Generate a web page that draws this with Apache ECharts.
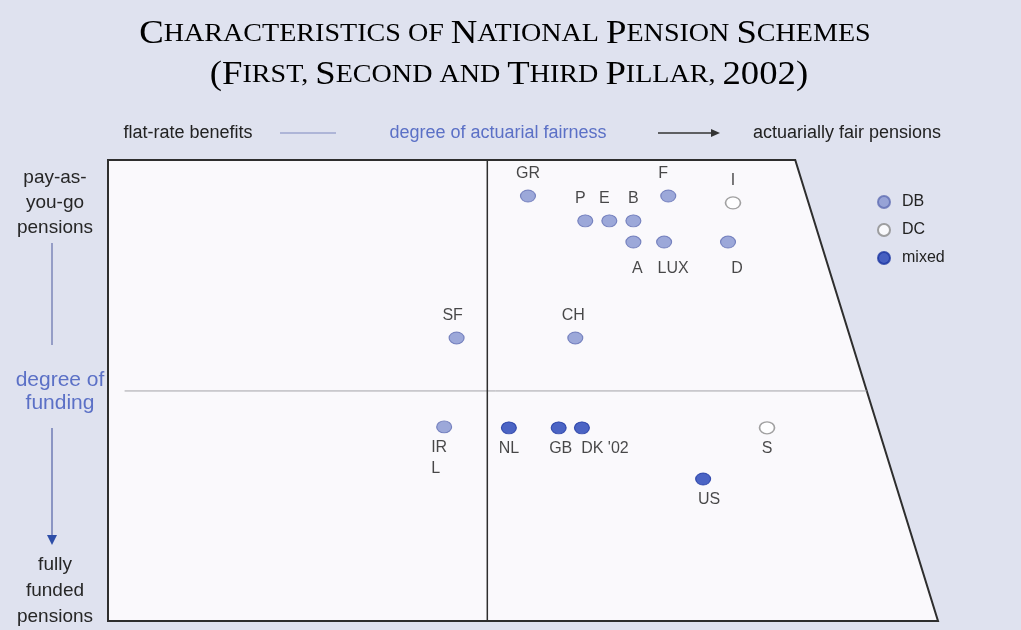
<!DOCTYPE html>
<html>
<head>
<meta charset="utf-8">
<title>Characteristics of National Pension Schemes</title>
<script src="https://cdn.jsdelivr.net/npm/echarts@6/dist/echarts.min.js"></script>
<style>
  html, body { margin: 0; padding: 0; background: #dfe2ef; }
  #chart { width: 1021px; height: 630px; }
</style>
</head>
<body>
<div id="chart"></div>
<script>
// countries and where they sit on the two axes
const countries = ['GR', 'F', 'I', 'P', 'E', 'B', 'A', 'LUX', 'D', 'SF', 'CH', 'IRL', 'NL', 'GB', "DK '02", 'S', 'US'];
// degree of actuarial fairness (0 = flat-rate benefits, 100 = actuarially fair)
const fairness = [50.6, 67.5, 75.3, 57.5, 60.4, 63.3, 63.3, 67.0, 74.7, 42.0, 56.3, 40.5, 48.3, 54.3, 57.1, 79.4, 71.7];
// degree of funding (0 = pay-as-you-go, 100 = fully funded)
const funding = [7.8, 7.8, 9.3, 13.2, 13.2, 13.2, 17.8, 17.8, 17.8, 38.6, 38.6, 57.9, 58.1, 58.1, 58.1, 58.1, 69.2];
const schemes = ['DB', 'DB', 'DC', 'DB', 'DB', 'DB', 'DB', 'DB', 'DB', 'DB', 'DB', 'DB', 'mixed', 'mixed', 'mixed', 'DC', 'mixed'];
const schemeTypes = ['DB', 'DC', 'mixed'];

// frame of the diagram, in axis units
const frameTopRight = 82.8;
const fairnessSplit = 45.7;
const fundingSplit = 50.1;
const splitLineStart = 2.0;

// label placement
const labelBelow = ['A', 'LUX', 'D', 'IRL', 'NL', 'GB', "DK '02", 'S', 'US'];
const labelShift = {
  F: [-5, 0], P: [-5, 0], E: [-5, 0], SF: [-4, 0], CH: [-2, 0],
  A: [4, 6], LUX: [9, 6], D: [9, 6], US: [6, 0], GB: [2, 0], "DK '02": [23, 0], IRL: [-13, 0]
};

const sans = '"Liberation Sans", Arial, sans-serif';
const serif = '"Liberation Serif", "Times New Roman", serif';

const schemeStyle = {
  DB: { color: '#8593d0', borderColor: '#5f6db3', borderWidth: 1 },
  DC: { color: '#ffffff', borderColor: '#8a8a8a', borderWidth: 1.5 },
  mixed: { color: '#1f3fb5', borderColor: '#1a34a0', borderWidth: 1 }
};

// turn "Pension Schemes" into small caps rich text
function smallCaps(str) {
  let out = '';
  let cur = null, buf = '';
  for (const ch of str) {
    const cls = /[a-z ,]/.test(ch) ? 's' : 'b';
    if (cls !== cur && buf) { out += '{' + cur + '|' + buf + '}'; buf = ''; }
    cur = cls;
    buf += ch.toUpperCase();
  }
  if (buf) out += '{' + cur + '|' + buf + '}';
  return out;
}

const titleRich = {
  b: { fontFamily: serif, fontSize: 34, color: '#1e1e1e' },
  s: { fontFamily: serif, fontSize: 26, color: '#1e1e1e' }
};

const chart = echarts.init(document.getElementById('chart'));

const pointSeries = schemeTypes.map(type => ({
  name: type,
  type: 'scatter',
  z: 3,
  symbol: 'circle',
  symbolSize: [15, 12],
  itemStyle: schemeStyle[type],
  label: {
    show: true,
    fontFamily: sans,
    fontSize: 16,
    color: '#1a1a1a',
    lineHeight: 21,
    formatter: p => (p.name === 'IRL' ? 'IR\nL' : p.name)
  },
  data: countries
    .map((c, i) => {
      const below = labelBelow.includes(c);
      return {
        name: c,
        scheme: schemes[i],
        value: [fairness[i], funding[i]],
        label: {
          position: below ? 'bottom' : 'top',
          distance: below ? 4 : 5,
          offset: labelShift[c] || [0, 0],
          align: c === 'IRL' ? 'left' : 'center'
        }
      };
    })
    .filter(d => d.scheme === type)
}));

const option = {
  backgroundColor: '#dfe2ef',
  animation: false,
  grid: { left: 108, top: 160, right: 83, bottom: 9 },
  xAxis: { type: 'value', min: 0, max: 100, show: false },
  yAxis: { type: 'value', min: 0, max: 100, inverse: true, show: false },
  legend: {
    orient: 'vertical',
    left: 872,
    top: 189,
    icon: 'circle',
    itemWidth: 14,
    itemHeight: 12,
    itemGap: 12,
    textStyle: { fontFamily: sans, fontSize: 16, color: '#222', padding: [0, 0, 0, 6] },
    data: schemeTypes
  },
  graphic: [
    {
      type: 'text', x: 505, y: 34, scaleX: 1.08,
      style: { text: smallCaps('Characteristics of National Pension Schemes'), rich: titleRich, align: 'center', verticalAlign: 'middle' }
    },
    {
      type: 'text', x: 509, y: 75, scaleX: 1.08,
      style: { text: smallCaps('(First, Second and Third Pillar, 2002)'), rich: titleRich, align: 'center', verticalAlign: 'middle' }
    },
    // top axis caption
    {
      type: 'text', x: 188, y: 133,
      style: { text: 'flat-rate benefits', font: '18px ' + sans, fill: '#222', align: 'center', verticalAlign: 'middle' }
    },
    { type: 'line', shape: { x1: 280, y1: 133, x2: 336, y2: 133 }, style: { stroke: '#9ea6cf', lineWidth: 1.5 } },
    {
      type: 'text', x: 498, y: 133,
      style: { text: 'degree of actuarial fairness', font: '18px ' + sans, fill: '#5b70c6', align: 'center', verticalAlign: 'middle' }
    },
    { type: 'line', shape: { x1: 658, y1: 133, x2: 712, y2: 133 }, style: { stroke: '#333', lineWidth: 1.5 } },
    { type: 'polygon', shape: { points: [[711, 129], [720, 133], [711, 137]] }, style: { fill: '#333' } },
    {
      type: 'text', x: 847, y: 133,
      style: { text: 'actuarially fair pensions', font: '18px ' + sans, fill: '#222', align: 'center', verticalAlign: 'middle' }
    },
    // left axis caption
    {
      type: 'text', x: 55, y: 165,
      style: { text: 'pay-as-\nyou-go\npensions', font: '19px ' + sans, lineHeight: 25, fill: '#262626', align: 'center', verticalAlign: 'top' }
    },
    { type: 'line', shape: { x1: 52, y1: 243, x2: 52, y2: 345 }, style: { stroke: '#7c86b8', lineWidth: 1.5 } },
    {
      type: 'text', x: 60, y: 369,
      style: { text: 'degree of\nfunding', font: '21px ' + sans, lineHeight: 23, fill: '#5b70c6', align: 'center', verticalAlign: 'top' }
    },
    { type: 'line', shape: { x1: 52, y1: 428, x2: 52, y2: 537 }, style: { stroke: '#6f7bb5', lineWidth: 1.5 } },
    { type: 'polygon', shape: { points: [[47, 535], [57, 535], [52, 545]] }, style: { fill: '#2e4ea8' } },
    {
      type: 'text', x: 55, y: 552,
      style: { text: 'fully\nfunded\npensions', font: '19px ' + sans, lineHeight: 26, fill: '#262626', align: 'center', verticalAlign: 'top' }
    }
  ],
  series: [
    {
      type: 'custom',
      z: 1,
      silent: true,
      data: [[0, 0]],
      renderItem: (params, api) => {
        const p = (x, y) => api.coord([x, y]);
        const splitEnd = frameTopRight + (100 - frameTopRight) * fundingSplit / 100;
        const h1 = p(splitLineStart, fundingSplit), h2 = p(splitEnd, fundingSplit);
        const v1 = p(fairnessSplit, 0), v2 = p(fairnessSplit, 100);
        return {
          type: 'group',
          children: [
            {
              type: 'polygon',
              shape: { points: [p(0, 0), p(frameTopRight, 0), p(100, 100), p(0, 100)] },
              style: { fill: '#faf9fc', stroke: '#2e2e2e', lineWidth: 2 }
            },
            { type: 'line', shape: { x1: h1[0], y1: h1[1], x2: h2[0], y2: h2[1] }, style: { stroke: '#a3a3a8', lineWidth: 1 } },
            { type: 'line', shape: { x1: v1[0], y1: v1[1], x2: v2[0], y2: v2[1] }, style: { stroke: '#2e2e2e', lineWidth: 1.5 } }
          ]
        };
      }
    },
    ...pointSeries
  ]
};

chart.setOption(option);
window.addEventListener('resize', () => chart.resize());
</script>
</body>
</html>
